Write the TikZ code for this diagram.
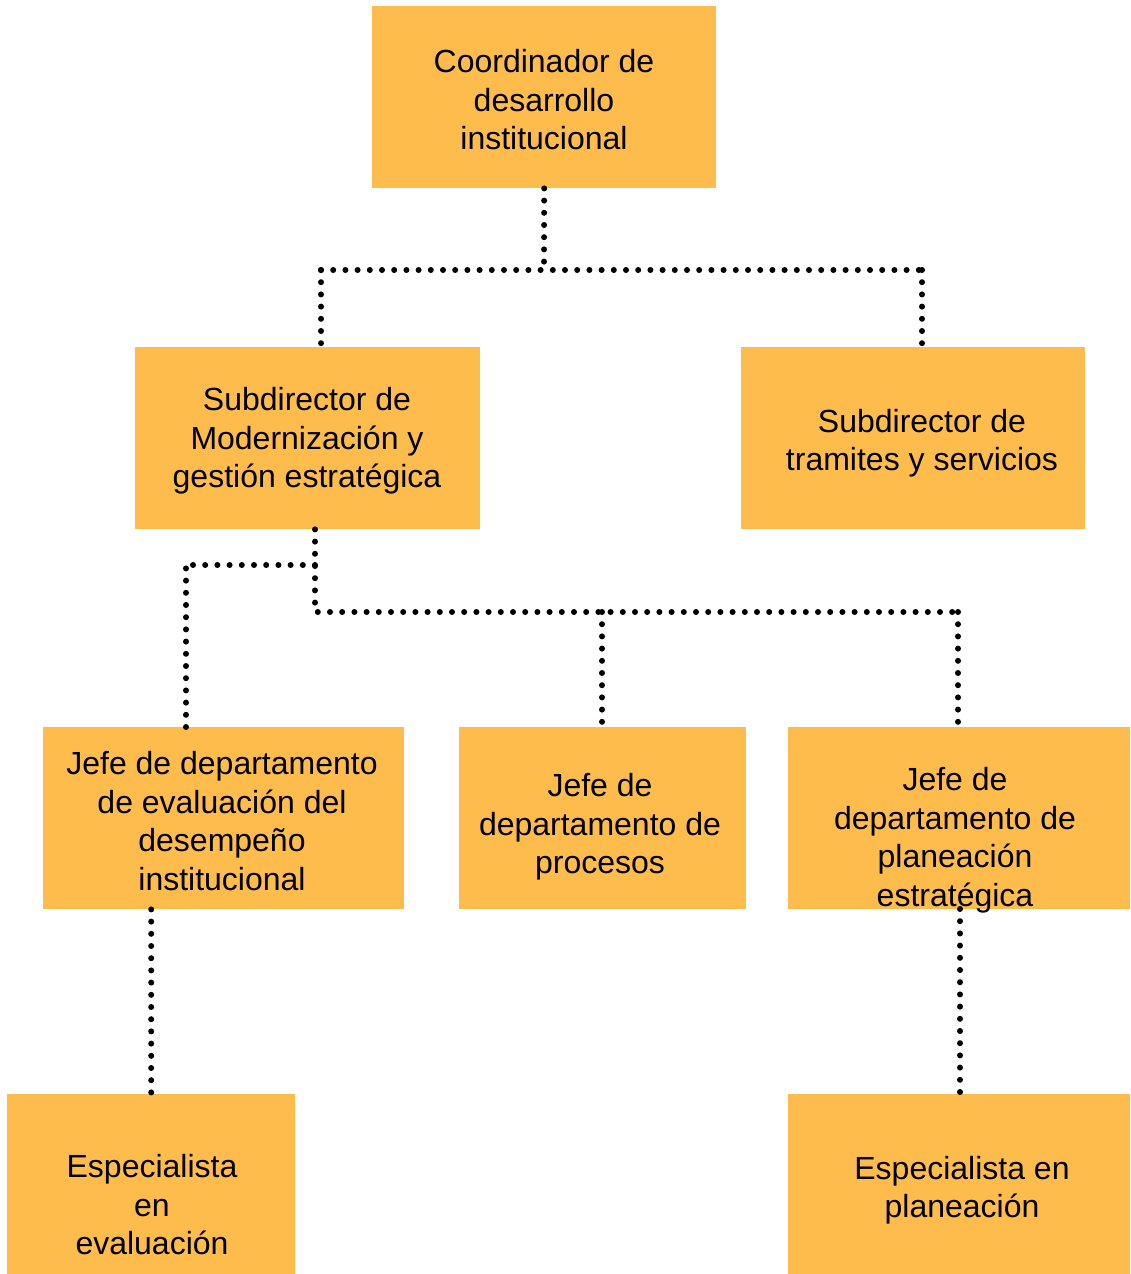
\documentclass[tikz,border=0pt]{standalone}
\usepackage{fontspec}
\setmainfont{Liberation Sans}
\definecolor{boxfill}{RGB}{253,188,75}
\begin{document}
\begin{tikzpicture}[x=1pt,y=-1pt,
  box/.style={draw=none,fill=boxfill,inner sep=0pt,anchor=north west},
  lbl/.style={align=center,inner sep=0pt,font=\fontsize{32}{38.5}\selectfont},
  link/.style={line width=6pt,dash pattern=on 0pt off 12.2pt,line cap=round}]
\useasboundingbox (0,0) rectangle (1130,1274);

% boxes
\node[box,minimum width=344pt,minimum height=182pt] (b1) at (372,6) {};
\node[box,minimum width=345pt,minimum height=182pt] (b2) at (135,347) {};
\node[box,minimum width=344pt,minimum height=182pt] (b3) at (741,347) {};
\node[box,minimum width=361pt,minimum height=182pt] (b4) at (43,727) {};
\node[box,minimum width=287pt,minimum height=182pt] (b5) at (459,727) {};
\node[box,minimum width=342pt,minimum height=182pt] (b6) at (788,727) {};
\node[box,minimum width=288pt,minimum height=180pt] (b7) at (7,1094) {};
\node[box,minimum width=342pt,minimum height=180pt] (b8) at (788,1094) {};

% labels
\node[lbl] (t1) at (544,100) {Coordinador de\\desarrollo\\institucional};
\node[lbl] (t2) at (307,441) {Subdirector de\\Modernización y\\gestión estratégica};
\node[lbl] (t3) at (922,443) {Subdirector de\\tramites y servicios};
\node[lbl] (t4) at (222,821) {Jefe de departamento\\de evaluación del\\desempeño\\institucional};
\node[lbl] (t5) at (600,827) {Jefe de\\departamento de\\procesos};
\node[lbl] (t6) at (955,840) {Jefe de\\departamento de\\planeación\\estratégica};
\node[lbl] (t7) at (152,1205) {Especialista\\en\\evaluación};
\node[lbl] (t8) at (962,1190) {Especialista en\\planeación};

% junction points
\coordinate (j1) at (544,270);
\coordinate (j1l) at (321,270);
\coordinate (j1r) at (922,270);
\coordinate (j2) at (315,612);
\coordinate (j2a) at (315,565);
\coordinate (j2l) at (186,565);
\coordinate (j2m) at (602,612);
\coordinate (j2r) at (958,612);

% connectors
\draw[link] (b1.south) -- (j1);
\draw[link] (j1l) -- (j1r);
\draw[link] (j1l) -- (j1l |- b2.north);
\draw[link] (j1r) -- (j1r |- b3.north);
\draw[link] (b2.south -| j2) -- (j2) -- (j2r);
\draw[link] (j2a) -- (j2l);
\draw[link] (j2l |- b4.north) -- (j2l);
\draw[link] (j2m) -- (j2m |- b5.north);
\draw[link] (j2r) -- (j2r |- b6.north);
\draw[link] (b4.south -| b7.north) -- (b7.north);
\draw[link] (960,909) coordinate (c6) -- (c6 |- b8.north);
\end{tikzpicture}
\end{document}
